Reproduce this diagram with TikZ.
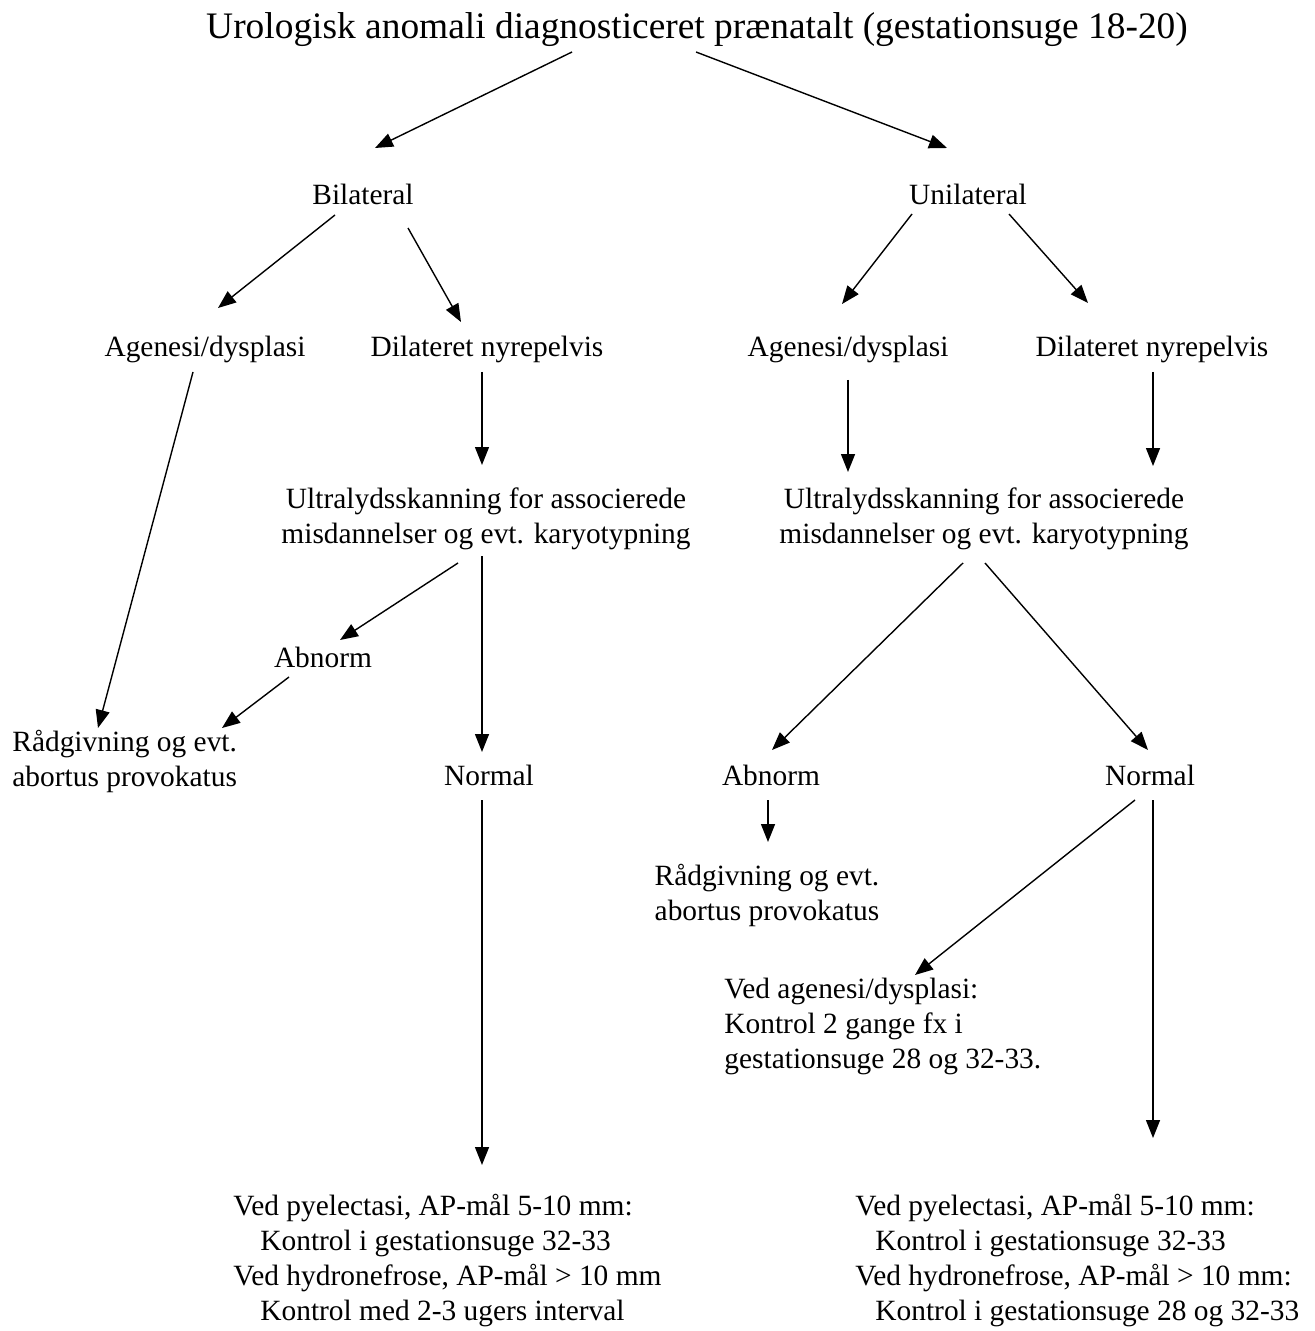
\documentclass[tikz,border=0pt]{standalone}
\usepackage{fontspec}
\setmainfont{Liberation Serif}
\usetikzlibrary{calc,arrows.meta}

\begin{document}
\begin{tikzpicture}[x=0.5pt,y=-0.5pt,>={Triangle[length=9pt,width=7pt]},
        txt/.style={inner sep=0pt,font=\fontsize{14.7}{17.5}\selectfont},
        flow/.style={->,line width=0.7pt}]
        \useasboundingbox (0,0) rectangle (1314,1331);

        % Title
        \node[txt,font=\fontsize{18.7}{22}\selectfont,anchor=base] (title) at (697,39)
            {Urologisk anomali diagnosticeret prænatalt (gestationsuge 18-20)};

        % Bilateral branch
        \node[txt,anchor=base] (bil) at (363,205) {Bilateral};
        \node[txt,anchor=base] (agL) at (205,357) {Agenesi/dysplasi};
        \node[txt,anchor=base] (dilL) at (487,357) {Dilateret nyrepelvis};
        \node[txt,anchor=north,align=center] (ultL) at (486,487)
            {Ultralydsskanning for associerede\\misdannelser og evt. karyotypning};
        \node[txt,anchor=base] (abnL) at (323,667) {Abnorm};
        \node[txt,anchor=north west,align=left] (raadL) at (12,730)
            {Rådgivning og evt.\\abortus provokatus};
        \node[txt,anchor=base] (normL) at (489,785) {Normal};
        \node[txt,anchor=north west,align=left] (ctrlL) at (233,1194)
            {Ved pyelectasi, AP-mål 5-10 mm:\\
             \hspace*{13.5pt}Kontrol i gestationsuge 32-33\\
             Ved hydronefrose, AP-mål > 10 mm\\
             \hspace*{13.5pt}Kontrol med 2-3 ugers interval};

        % Unilateral branch
        \node[txt,anchor=base] (uni) at (968,205) {Unilateral};
        \node[txt,anchor=base] (agR) at (848,357) {Agenesi/dysplasi};
        \node[txt,anchor=base] (dilR) at (1152,357) {Dilateret nyrepelvis};
        \node[txt,anchor=north,align=center] (ultR) at (984,487)
            {Ultralydsskanning for associerede\\misdannelser og evt. karyotypning};
        \node[txt,anchor=base] (abnR) at (771,785) {Abnorm};
        \node[txt,anchor=base] (normR) at (1150,785) {Normal};
        \node[txt,anchor=north,align=center] (raadR) at (767,864)
            {Rådgivning og evt.\\abortus provokatus};
        \node[txt,anchor=north west,align=left] (agCtrl) at (724,978)
            {Ved agenesi/dysplasi:\\Kontrol 2 gange fx i\\gestationsuge 28 og 32-33.};
        \node[txt,anchor=north west,align=left] (ctrlR) at (855,1194)
            {Ved pyelectasi, AP-mål 5-10 mm:\\
             \hspace*{10pt}Kontrol i gestationsuge 32-33\\
             Ved hydronefrose, AP-mål > 10 mm:\\
             \hspace*{10pt}Kontrol i gestationsuge 28 og 32-33};

        % Arrows
        \draw[flow] ($(title.base)+(-125,13)$) -- ($(bil.base)+(12,-57)$);
        \draw[flow] ($(title.base)+(-1,13)$) -- ($(uni.base)+(-21,-57)$);

        \draw[flow] ($(bil.base)+(-28,10)$) -- ($(agL.base)+(13,-49)$);
        \draw[flow] ($(bil.base)+(45,23)$) -- ($(dilL.base)+(-26,-35)$);
        \draw[flow] ($(agL.base)+(-12,15)$) -- ($(raadL.north west)+(86,-2)$);
        \draw[flow] ($(dilL.base)+(-5,15)$) -- ($(ultL.north)+(-4,-22)$);
        \draw[flow] ($(ultL.north)+(-28,76)$) -- ($(abnL.base)+(17,-27)$);
        \draw[flow] ($(ultL.north)+(-4,69)$) -- ($(normL.base)+(-7,-33)$);
        \draw[flow] ($(abnL.base)+(-34,10)$) -- ($(raadL.north west)+(210,-2)$);
        \draw[flow] ($(normL.base)+(-7,15)$) -- ($(ctrlL.north west)+(249,-29)$);

        \draw[flow] ($(uni.base)+(-56,9)$) -- ($(agR.base)+(-6,-53)$);
        \draw[flow] ($(uni.base)+(41,9)$) -- ($(dilR.base)+(-64,-54)$);
        \draw[flow] ($(agR.base)+(0,23)$) -- ($(ultR.north)+(-136,-15)$);
        \draw[flow] ($(dilR.base)+(1,15)$) -- ($(ultR.north)+(169,-21)$);
        \draw[flow] ($(ultR.north)+(-21,76)$) -- ($(abnR.base)+(1,-35)$);
        \draw[flow] ($(ultR.north)+(1,76)$) -- ($(normR.base)+(-2,-35)$);
        \draw[flow] ($(abnR.base)+(-3,15)$) -- ($(raadR.north)+(1,-22)$);
        \draw[flow] ($(normR.base)+(-15,15)$) -- ($(agCtrl.north west)+(191,-3)$);
        \draw[flow] ($(normR.base)+(3,15)$) -- ($(ctrlR.north west)+(298,-56)$);
\end{tikzpicture}
\end{document}
